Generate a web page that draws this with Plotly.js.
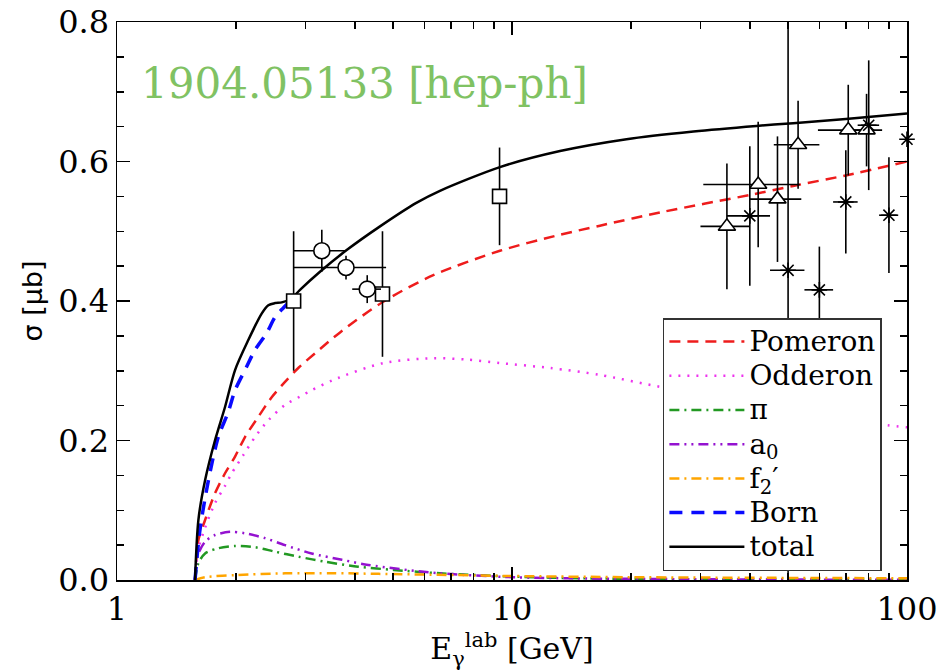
<!DOCTYPE html>
<html>
<head>
<meta charset="utf-8">
<script src="https://cdn.plot.ly/plotly-3.0.1.min.js"></script>
<style>
html,body{margin:0;padding:0;background:#fff;}
#chart{width:941px;height:672px;}
</style>
</head>
<body>
<div id="chart"></div>
<script>
// ---- model curves (E in GeV, sigma in microbarn) ----
const E_pom = [1.576, 1.607, 1.671, 1.77, 1.877, 1.99, 2.109, 2.279, 2.464, 2.663, 2.89, 3.172, 3.67, 4.72, 6.32, 9.32, 13.23, 16.7, 23.7, 40.8, 51.5, 70, 100];
const S_pom = [0, 0.057, 0.086, 0.124, 0.153, 0.177, 0.205, 0.234, 0.262, 0.284, 0.305, 0.325, 0.355, 0.399, 0.437, 0.472, 0.495, 0.508, 0.527, 0.553, 0.565, 0.580, 0.600];

const E_odd = [1.576, 1.60, 1.671, 1.77, 1.877, 1.952, 2.088, 2.236, 2.416, 2.663, 2.906, 3.11, 3.53, 4.72, 6.32, 7.68, 9.32, 12.48, 16.7, 23.7, 35, 50, 70, 88.9, 100];
const S_odd = [0, 0.04, 0.075, 0.11, 0.135, 0.153, 0.179, 0.205, 0.229, 0.251, 0.263, 0.272, 0.287, 0.311, 0.318, 0.316, 0.311, 0.304, 0.294, 0.277, 0.262, 0.246, 0.232, 0.222, 0.219];

const E_pi = [1.576, 1.607, 1.671, 1.805, 1.99, 2.236, 2.512, 2.877, 3.36, 4.08, 5.01, 6.57, 10.06, 15, 30, 100];
const S_pi = [0, 0.024, 0.038, 0.0455, 0.0487, 0.047, 0.0406, 0.0334, 0.0263, 0.019, 0.0145, 0.0096, 0.0048, 0.0025, 0.001, 0.0003];

const E_a0 = [1.576, 1.60, 1.671, 1.77, 1.932, 2.109, 2.37, 2.663, 3.11, 3.71, 4.33, 6.57, 10.06, 14.3, 30, 100];
const S_a0 = [0, 0.035, 0.055, 0.0645, 0.069, 0.067, 0.060, 0.050, 0.038, 0.029, 0.0215, 0.0096, 0.004, 0.0024, 0.001, 0.0003];

const E_f2 = [1.576, 1.671, 1.99, 2.663, 3.5, 4.6, 6.5, 10, 20, 50, 100];
const S_f2 = [0, 0.004, 0.007, 0.0095, 0.0098, 0.0088, 0.0075, 0.0057, 0.004, 0.003, 0.0025];

const E_born = [1.576, 1.62, 1.70, 1.805, 1.913, 1.99, 2.13, 2.236, 2.393, 2.512, 2.636, 2.769];
const S_born = [0, 0.07, 0.14, 0.205, 0.241, 0.272, 0.306, 0.330, 0.354, 0.377, 0.390, 0.402];

const E_tot = [1.576, 1.607, 1.671, 1.77, 1.877, 1.99, 2.15, 2.324, 2.416, 2.512, 2.612, 2.769, 2.906, 3.265, 3.815, 4.633, 5.74, 6.57, 9.32, 13.23, 19.5, 28.8, 41.6, 51.5, 70, 100];
const S_tot = [0, 0.086, 0.143, 0.200, 0.248, 0.301, 0.344, 0.382, 0.394, 0.397, 0.398, 0.404, 0.416, 0.442, 0.473, 0.507, 0.541, 0.558, 0.592, 0.615, 0.632, 0.643, 0.651, 0.655, 0.661, 0.669];

// ---- experimental data ----
const E_sq = [2.8, 4.7, 9.3];
const S_sq = [0.40, 0.41, 0.55];
const dS_sq = [0.10, 0.09, 0.07];

const E_ci = [3.3, 3.8, 4.3];
const S_ci = [0.472, 0.448, 0.417];
const dS_ci = [0.03, 0.017, 0.02];
const dE_ci = [0.5, 1.0, 0.36];

const E_tr = [35, 42, 47, 53, 71, 79];
const S_tr = [0.507, 0.567, 0.546, 0.624, 0.645, 0.645];
const dS_tr = [0.09, 0.09, 0.09, 0.063, 0.065, 0.052];
const dE_tr = [5, 11.5, 7, 7, 11.5, 7.5];

const E_st = [40, 50, 60, 70, 80, 90, 100];
const S_st = [0.522, 0.444, 0.416, 0.542, 0.652, 0.523, 0.632];
const dS_st = [0.10, 0.45, 0.062, 0.074, 0.093, 0.083, 0];
const dE_st = [5, 5, 5, 5, 5, 5, 0];

const xTickVals = [1, 10, 100];
const xTickText = ['1', '10', '100'];
const xMinorVals = [2,3,4,5,6,7,8,9,20,30,40,50,60,70,80,90];

const legendNames = ['Pomeron', 'Odderon', 'π', 'a<sub>0</sub>', 'f<sub>2</sub>′', 'Born', 'total'];
const big = s => '<span style="font-size:28px">' + s + '</span>';

const SERIF = 'DejaVu Serif';

function curve(x, y, name, color, dash, width, shape) {
  return {x: x, y: y, type: 'scatter', mode: 'lines', name: big(name),
          line: {color: color, dash: dash, width: width, shape: shape || 'spline', smoothing: 0.8}, hoverinfo: 'skip'};
}

const traces = [
  curve(E_pom, S_pom, legendNames[0], '#ee1c1c', '11px,7px', 2.5),
  curve(E_odd, S_odd, legendNames[1], '#ee33ee', '2px,7px', 2.5),
  curve(E_pi, S_pi, legendNames[2], '#229922', '10px,5px,2px,5px', 2.5),
  curve(E_a0, S_a0, legendNames[3], '#9412d0', '10px,5px,2px,5px,2px,5px', 2.5),
  curve(E_f2, S_f2, legendNames[4], '#ffa500', '10px,5px,2px,5px', 2.5),
  curve(E_born, S_born, legendNames[5], '#0a0aff', '13px,9px', 3.5),
  curve(E_tot, S_tot, legendNames[6], '#000000', 'solid', 2.5)
];

function pts(x, y, dy, dx, symbol, size, clip) {
  const t = {x: x, y: y, type: 'scatter', mode: 'markers', showlegend: false, hoverinfo: 'skip',
    cliponaxis: clip,
    marker: {symbol: symbol, size: size, color: '#ffffff', line: {color: '#000000', width: 1.6}},
    error_y: {type: 'data', array: dy, visible: true, color: '#000000', thickness: 1.6, width: 0}};
  if (dx) t.error_x = {type: 'data', array: dx, visible: true, color: '#000000', thickness: 1.6, width: 0};
  return t;
}
traces.push(pts(E_sq, S_sq, dS_sq, null, 'square', 14, false));
traces.push(pts(E_ci, S_ci, dS_ci, dE_ci, 'circle', 16, false));
traces.push(pts(E_tr, S_tr, dS_tr, dE_tr, 'triangle-up', 15, false));
const st = pts(E_st, S_st, dS_st, dE_st, 'asterisk-open', 13, false);
st.marker.color = '#000000';
traces.push(st);

const axFont = {family: SERIF, size: 32, color: '#000'};

const layout = {
  width: 941, height: 672,
  margin: {l: 117, r: 34, t: 22, b: 92},
  paper_bgcolor: '#ffffff', plot_bgcolor: '#ffffff',
  font: {family: SERIF},
  showlegend: true,
  xaxis: {
    type: 'log', range: [0, 2],
    tickmode: 'array', tickvals: xTickVals, ticktext: xTickText,
    ticks: 'inside', ticklen: 13, tickwidth: 1.5, tickcolor: '#000',
    minor: {tickmode: 'array', tickvals: xMinorVals, ticks: 'inside', ticklen: 7, tickwidth: 1.5, tickcolor: '#000', showgrid: false},
    showline: true, linecolor: '#000', linewidth: 1.5, mirror: 'ticks',
    showgrid: false, zeroline: false,
    tickfont: axFont,
    title: {text: 'E<sub>γ</sub><sup>lab</sup> [GeV]', font: {family: SERIF, size: 30, color: '#000'}, standoff: 4}
  },
  yaxis: {
    range: [0, 0.8], tickmode: 'linear', tick0: 0, dtick: 0.2, tickformat: '.1f',
    ticks: 'inside', ticklen: 13, tickwidth: 1.5, tickcolor: '#000',
    minor: {dtick: 0.05, ticks: 'inside', ticklen: 7, tickwidth: 1.5, tickcolor: '#000', showgrid: false},
    showline: true, linecolor: '#000', linewidth: 1.5, mirror: 'ticks',
    showgrid: false, zeroline: false,
    tickfont: axFont,
    title: {text: 'σ [μb]', font: {family: 'DejaVu Sans', size: 27, color: '#000'}, standoff: 8}
  },
  legend: {
    x: 0.691, y: 0.4695, xanchor: 'left', yanchor: 'top',
    bgcolor: '#ffffff', bordercolor: '#333', borderwidth: 1.5,
    font: {family: SERIF, size: 24, color: '#000'},
    itemwidth: 75, tracegroupgap: 0, entrywidth: 145
  },
  annotations: [{
    xref: 'paper', yref: 'paper', x: 0.028, y: 0.889, xanchor: 'left', yanchor: 'middle',
    text: '1904.05133 [hep-ph]', showarrow: false,
    font: {family: SERIF, size: 42, color: '#80c263'}
  }]
};

Plotly.newPlot('chart', traces, layout, {displayModeBar: false, staticPlot: true});
</script>
</body>
</html>
